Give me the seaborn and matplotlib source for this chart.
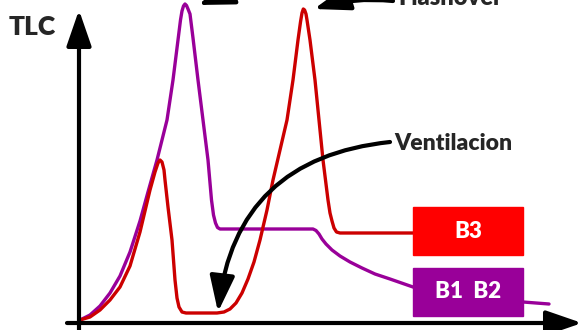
import seaborn as sns
import matplotlib.pyplot as plt
from matplotlib.patches import Rectangle

# curve points (x right, y down)
purple_x = [80, 90, 100, 110, 120, 130, 140, 148, 157, 167, 173, 178, 180.5, 182,
            183.5, 185, 186.5, 188, 190, 193, 198, 203, 208, 211.5, 213.5, 215.5,
            217.5, 220, 313, 316, 319, 322, 326, 332, 340, 350, 362, 375, 390, 413,
            523, 549]
purple_y = [320, 315, 306, 293, 276, 252, 221, 192, 160, 120, 80, 40, 20, 11,
            6, 4, 5.5, 9, 14, 38, 80, 120, 160, 200, 215, 223,
            227.5, 229, 229, 230.5, 234, 239, 244, 250, 256, 262, 268, 274, 279, 287,
            302, 304]

red_x = [80, 90, 100, 110, 120, 130, 140, 150, 155, 158, 160, 162, 164, 165, 168,
         172, 175, 177, 179, 182, 186, 217, 224, 230, 236, 242, 248, 254, 260, 267,
         273, 280, 287, 293, 298, 300.5, 302, 303.3, 304.6, 306, 307, 310, 315, 319,
         323, 328, 330, 332, 334, 336.5, 340, 413]
red_y = [320, 317, 310, 300, 287, 266, 232, 190, 172, 163, 160, 162, 170, 180, 207,
         240, 280, 298, 307, 312, 313, 313, 312, 309, 303, 293, 279, 262, 240, 210,
         180, 150, 120, 80, 40, 22, 13, 9, 10, 14, 20, 40, 80, 120,
         160, 200, 213, 221, 228, 232, 233, 233]

labels = ["B3", "B1  B2"]
label_colors = ["#ff0000", "#990099"]

sns.set_style("white")
plt.rcParams["font.family"] = ["Lato", "DejaVu Sans"]

fig = plt.figure(figsize=(5.83, 3.30), dpi=100)
ax = fig.add_axes([0, 0, 1, 1])
ax.set_xlim(0, 583)
ax.set_ylim(330, 0)
ax.axis("off")

arrow_kw = dict(arrowstyle="-|>,head_length=0.55,head_width=0.19", lw=3, color="black",
                shrinkA=0, shrinkB=0, mutation_scale=40)

# axes with arrows
ax.annotate("", xy=(582, 323), xytext=(67, 323), arrowprops=arrow_kw,
            annotation_clip=False)
ax.annotate("", xy=(79, 10), xytext=(79, 335), arrowprops=arrow_kw,
            annotation_clip=False)

sns.lineplot(x=purple_x, y=purple_y, sort=False, estimator=None, color="#990099",
             lw=2.4, ax=ax, solid_joinstyle="round", solid_capstyle="round")
sns.lineplot(x=red_x, y=red_y, sort=False, estimator=None, color="#cc0000",
             lw=2.4, ax=ax, solid_joinstyle="round", solid_capstyle="round")

# label boxes
for lab, col, y0 in zip(labels, label_colors, [207, 268]):
    ax.add_patch(Rectangle((413, y0), 110, 48, color=col, zorder=3))
    ax.text(468, y0 + 24, lab, color="white", fontsize=16, fontweight="heavy",
            ha="center", va="center", zorder=4)

ax.text(9, 27, "TLC", fontsize=19, fontweight="heavy", va="center", ha="left")
ax.text(394, 143, "Ventilacion", fontsize=16.5, fontweight="heavy", va="center", ha="left")
ax.text(398, 5, "Flashover", fontsize=17, fontweight="heavy", va="baseline", ha="left")

ax.annotate("", xy=(218, 312), xytext=(390, 142),
            arrowprops=dict(arrow_kw, connectionstyle="arc3,rad=0.4"))
ax.annotate("", xy=(314, 9), xytext=(393, 1),
            arrowprops=dict(arrow_kw, connectionstyle="arc3,rad=0.1"),
            annotation_clip=False)
ax.annotate("", xy=(198, 5), xytext=(393, -6),
            arrowprops=dict(arrow_kw, connectionstyle="arc3,rad=0.15"),
            annotation_clip=False)

fig.savefig("out.png", dpi=100)
